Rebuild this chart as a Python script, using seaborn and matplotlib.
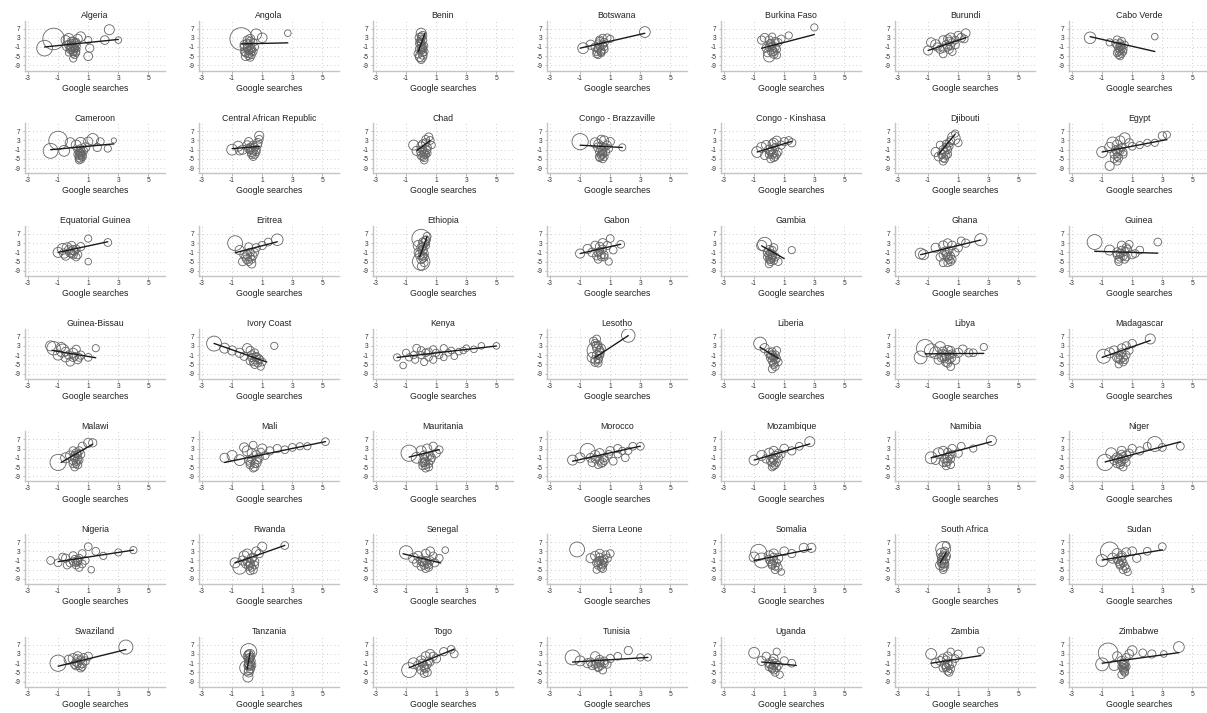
import numpy as np
import pandas as pd
import matplotlib
matplotlib.use("Agg")
import matplotlib.pyplot as plt
import seaborn as sns

# Google search intensity (x), outcome change (y) and population weight (w) by country
COUNTRIES = [
    "Algeria", "Angola", "Benin", "Botswana", "Burkina Faso", "Burundi", "Cabo Verde",
    "Cameroon", "Central African Republic", "Chad", "Congo - Brazzaville", "Congo - Kinshasa", "Djibouti", "Egypt",
    "Equatorial Guinea", "Eritrea", "Ethiopia", "Gabon", "Gambia", "Ghana", "Guinea",
    "Guinea-Bissau", "Ivory Coast", "Kenya", "Lesotho", "Liberia", "Libya", "Madagascar",
    "Malawi", "Mali", "Mauritania", "Morocco", "Mozambique", "Namibia", "Niger",
    "Nigeria", "Rwanda", "Senegal", "Sierra Leone", "Somalia", "South Africa", "Sudan",
    "Swaziland", "Tanzania", "Togo", "Tunisia", "Uganda", "Zambia", "Zimbabwe",
]

X, Y, W = {}, {}, {}
X["Algeria"] = [-1.3, -1.9, -0.5, -0.3, -0.1, 0.0, 0.1, 0.2, -0.2, 0.0, 0.1, -0.4, 0.3, 0.5, 2.4, 2.1, 3.0, 1.0, 1.1, 1.0, 0.0, 0.3, -0.1, 0.2, -0.3, 0.1, -0.3, -0.1, 0.1, 0.2, 0.0, -0.2, 0.1, -0.1, 0.2, 0.0]
Y["Algeria"] = [2.5, -1.5, 2.0, 2.5, 1.5, -0.5, -2.0, -3.0, -1.0, -4.0, 0.5, -0.5, 2.5, 3.5, 6.5, 2.0, 2.0, 2.0, -1.5, -5.0, -6.0, -2.0, -2.5, 1.0, -3.5, -1.5, 0.0, -1.0, -1.5, -0.5, -3.0, -2.0, -4.5, 0.5, -3.5, 1.5]
W["Algeria"] = [55, 28, 8, 12, 6, 5, 4, 4, 6, 3, 8, 10, 8, 9, 10, 7, 3, 4, 6, 7, 4, 0.5, 4, 5, 3, 5, 6, 7, 5, 6, 5, 6, 4, 7, 4, 6]
X["Angola"] = [-0.4, 0.6, 1.0, 2.7, -0.2, 0.0, 0.2, 0.3, 0.1, -0.1, 0.4, 0.2, 0.0, 0.3, 0.5, 0.1, -0.2, 0.2, 0.0, 0.2, 0.1, -0.1, 0.3, 0.1, 0.0, 0.2, 0.4, -0.2]
Y["Angola"] = [2.5, 4.5, 3.0, 5.0, 0.0, -1.0, -2.0, -3.0, -4.0, -5.0, 1.0, 2.5, 2.0, -4.5, -1.0, 0.5, -3.0, -5.5, -1.5, -0.5, -2.5, -3.5, -2.0, -4.8, 0.5, 1.5, -3.0, -1.0]
W["Angola"] = [60, 12, 9, 3, 6, 5, 6, 4, 5, 7, 5, 8, 6, 4, 5, 4, 5, 5, 6, 6, 5, 6, 5, 5, 7, 6, 5, 6]
X["Benin"] = [0.0, 0.0, -0.1, 0.1, 0.0, 0.1, -0.1, 0.2, 0.0, -0.2, 0.1, 0.0, 0.2, -0.1, 0.0, 0.0, 0.1, -0.1, 0.0, 0.1, -0.1, 0.0, 0.1]
Y["Benin"] = [5.0, -5.0, 3.0, 2.0, 0.0, -1.0, -2.0, -3.0, 1.0, -4.0, 4.0, -6.5, -0.5, 1.5, -2.5, -1.5, -3.5, 0.5, 2.5, -4.5, -5.5, 3.5, -2.0]
W["Benin"] = [10, 14, 8, 6, 6, 5, 7, 5, 5, 6, 6, 5, 4, 4, 5, 6, 5, 6, 5, 6, 6, 5, 5]
X["Botswana"] = [3.3, -0.8, -0.3, 0.0, 0.2, 0.4, 0.6, 0.5, 0.3, 0.1, 0.8, 1.0, 0.4, 0.2, 0.6, 0.2, 0.3, 0.4, 0.1, 0.5, 0.3, 0.2, 0.6]
Y["Botswana"] = [5.5, -1.5, 0.0, -1.0, -2.0, -3.0, 1.0, 3.0, 2.0, -4.0, 3.0, 2.5, -2.5, 0.5, -1.0, -1.5, -0.5, -3.5, -3.0, 0.0, 1.5, -4.5, -2.0]
W["Botswana"] = [12, 12, 8, 6, 5, 5, 6, 4, 6, 5, 5, 4, 5, 4, 4, 5, 6, 5, 5, 5, 5, 4, 5]
X["Burkina Faso"] = [3.0, 1.3, -0.5, -0.3, 0.0, 0.2, 0.4, 0.6, 0.8, 0.1, -0.2, 0.3, 0.0, 0.5, 0.2, 0.0, 0.2, 0.1, 0.3, 0.4, -0.1, 0.2, 0.5]
Y["Burkina Faso"] = [7.5, 4.0, 2.0, 3.0, -5.0, -3.0, -1.0, 1.0, 2.5, 0.5, -1.5, -4.0, 2.0, -2.0, 3.5, -1.0, -2.0, 0.0, -3.0, 1.5, -3.5, -0.5, -4.5]
W["Burkina Faso"] = [4, 4, 6, 7, 14, 8, 6, 5, 5, 6, 6, 7, 6, 5, 4, 6, 6, 5, 6, 5, 6, 5, 5]
X["Burundi"] = [-1.0, -0.5, 0.0, 0.5, 1.0, 1.5, -0.8, 0.3, 0.8, 1.2, -0.2, 0.6, 0.0, 0.4, 1.4, 0.2, 0.4, 0.0, 0.6, 0.3, 0.8, -0.4, 0.5]
Y["Burundi"] = [-2.5, 0.0, 2.0, 3.0, 4.0, 5.0, 1.0, -1.0, 0.0, 3.0, -2.0, -3.0, -4.0, 1.5, 2.5, 0.0, -2.0, -1.5, 1.0, 2.5, 2.0, -1.0, -0.5]
W["Burundi"] = [8, 10, 7, 9, 6, 7, 8, 6, 6, 7, 6, 5, 5, 6, 5, 6, 6, 6, 5, 6, 5, 6, 5]
X["Cabo Verde"] = [-1.8, -0.5, 0.0, 0.2, 0.4, 0.3, 0.1, 0.5, 2.5, 0.2, 0.0, 0.3, -0.1, 0.1, 0.2, 0.3, 0.0, 0.4, 0.2, 0.1, 0.3]
Y["Cabo Verde"] = [3.0, 1.0, 2.0, -1.0, -2.0, -4.0, -3.0, 0.0, 3.5, -5.0, -0.5, 1.5, 0.5, -1.5, -2.5, -0.5, -3.5, -3.0, 0.5, -4.5, -1.8]
W["Cabo Verde"] = [14, 4, 6, 5, 5, 4, 5, 4, 3, 4, 4, 5, 5, 5, 5, 4, 5, 4, 5, 4, 4]
X["Cameroon"] = [-1.0, -1.5, -0.6, -0.2, 0.2, 0.5, 0.8, 1.0, 1.3, 1.6, 1.8, 2.3, 2.7, 0.4, 0.5, 0.6, 0.5, 0.3, 0.7, 0.4, 0.5, 0.4, 0.6, 0.5, 0.3, 0.6, 0.4, 0.5]
Y["Cameroon"] = [3.0, -1.5, -1.5, 2.0, 1.0, 2.0, 0.0, 2.5, 3.5, 0.0, 2.5, -0.5, 3.0, -2.0, -3.0, -4.0, -5.0, -1.0, -1.5, -3.5, -2.5, -4.5, -3.5, -1.5, -3.0, -2.2, -5.5, -0.5]
W["Cameroon"] = [40, 25, 12, 10, 10, 12, 8, 8, 14, 6, 5, 4, 1, 6, 7, 6, 6, 5, 5, 6, 5, 6, 5, 6, 5, 5, 5, 5]
X["Central African Republic"] = [-1.0, -0.6, -0.3, 0.0, 0.3, 0.5, 0.8, 0.7, 0.6, 0.2, 0.4, 0.1, -0.5, 0.8, 0.2, 0.4, 0.5, 0.3, 0.6, 0.1, 0.7, 0.4]
Y["Central African Republic"] = [-1.0, 0.5, -1.0, 1.0, -2.0, -3.0, 5.0, 2.0, -1.0, 0.0, -4.0, 2.5, -1.5, 3.5, -1.0, -1.5, 0.0, -3.0, -2.0, -0.5, 1.0, 1.0]
W["Central African Republic"] = [12, 10, 8, 7, 8, 6, 8, 7, 6, 6, 5, 6, 6, 5, 6, 6, 5, 6, 5, 6, 5, 5]
X["Chad"] = [-0.5, -0.3, 0.0, 0.2, 0.4, 0.6, 0.3, 0.1, 0.5, 0.2, 0.0, 0.4, 0.7, 0.1, 0.2, 0.3, 0.0, 0.2, 0.4, 0.1, 0.3]
Y["Chad"] = [1.0, -1.5, -2.0, -3.0, 0.0, 3.0, 2.0, -4.0, 4.5, -5.5, 0.5, -1.0, 1.0, -1.0, -2.0, -3.0, -3.5, -4.5, -2.5, 1.5, 3.5]
W["Chad"] = [10, 8, 7, 6, 6, 5, 6, 5, 6, 5, 7, 5, 4, 6, 6, 5, 6, 5, 5, 6, 5]
X["Congo - Brazzaville"] = [-1.0, 0.0, 0.2, 0.4, 0.6, 0.8, 1.0, 1.8, 0.5, 0.3, 0.7, 0.2, 0.5, 0.9, 0.4, 0.3, 0.5, 0.4, 0.6, 0.4, 0.5, 0.3, 0.6]
Y["Congo - Brazzaville"] = [2.5, 2.0, 0.0, -1.0, 3.0, 1.0, 2.5, 0.0, -3.0, -4.0, -2.0, 1.5, -5.0, -0.5, 3.5, -2.0, -1.5, -3.5, -4.0, 0.5, -2.5, -4.5, 0.0]
W["Congo - Brazzaville"] = [30, 10, 8, 7, 8, 6, 6, 4, 6, 6, 5, 7, 5, 5, 6, 6, 6, 5, 5, 6, 5, 5, 5]
X["Congo - Kinshasa"] = [-0.8, -0.5, -0.2, 0.0, 0.3, 0.5, 0.8, 1.0, 1.3, 1.5, 0.2, 0.4, 0.1, 0.6, -0.3, 0.2, 0.3, 0.4, 0.1, 0.5, 0.3, 0.2, 0.0]
Y["Congo - Kinshasa"] = [-2.0, 0.0, 1.0, -1.0, 2.0, 3.0, 1.0, 2.5, 3.0, 2.0, -3.0, -4.0, -5.0, -2.0, -3.5, -1.0, -2.5, 0.0, -2.0, -3.0, -4.5, 1.5, -3.0]
W["Congo - Kinshasa"] = [12, 10, 8, 8, 8, 7, 6, 6, 5, 6, 6, 5, 5, 5, 6, 6, 6, 5, 6, 5, 5, 6, 5]
X["Djibouti"] = [-0.5, -0.3, 0.0, 0.2, 0.4, 0.7, 0.8, 1.0, 0.3, 0.0, -0.2, 0.5, 0.1, 0.2, 0.0, 0.3, 0.1, -0.1, 0.2, 0.4]
Y["Djibouti"] = [-2.0, -4.0, -1.0, 0.0, 2.0, 4.0, 6.0, 2.0, -3.0, -6.0, 1.0, 3.0, -2.0, -3.5, -4.5, -1.0, -5.0, -3.0, 1.5, 0.5]
W["Djibouti"] = [8, 7, 6, 6, 6, 18, 4, 5, 5, 5, 5, 5, 6, 5, 6, 5, 5, 6, 5, 5]
X["Egypt"] = [-1.0, -0.5, -0.3, 0.0, 0.2, 0.5, 0.8, 1.0, 2.0, 2.5, 3.0, 3.3, -0.5, 0.1, 0.4, 0.0, -0.2, 1.5, 0.0, -0.2, 0.2, 0.1, -0.1, 0.3, 0.0, 0.4]
Y["Egypt"] = [-2.0, 0.0, 2.0, 1.0, 3.0, 4.0, 2.0, 0.5, 2.0, 2.0, 5.0, 5.5, -8.0, -1.0, -3.0, -4.0, -5.0, 1.0, -2.0, -3.0, -1.5, -4.5, -1.0, 0.0, -6.0, -2.0]
W["Egypt"] = [12, 10, 14, 10, 8, 12, 6, 5, 4, 4, 6, 4, 8, 6, 5, 5, 5, 4, 6, 6, 5, 6, 6, 5, 5, 5]
X["Equatorial Guinea"] = [-1.0, -0.7, -0.4, -0.2, 0.0, 0.3, 0.5, 1.0, 2.3, 1.0, -0.5, 0.2, -0.1, -0.3, -0.1, 0.1, -0.6, 0.2, 0.0]
Y["Equatorial Guinea"] = [-1.0, 0.5, 1.0, -1.0, 0.0, -2.0, 1.5, 5.0, 3.3, -5.0, -2.5, -3.0, 2.0, 0.0, -1.5, -0.5, -1.5, 0.5, -2.0]
W["Equatorial Guinea"] = [10, 12, 10, 8, 8, 6, 6, 4, 5, 3, 7, 5, 6, 7, 6, 6, 8, 5, 6]
X["Eritrea"] = [-0.8, -0.5, -0.2, 0.0, 0.3, 0.6, 1.0, 2.0, 0.2, -0.3, 0.5, 0.1, 1.4, 0.0, 0.2, -0.1, 0.3, 0.1, 0.4]
Y["Eritrea"] = [3.0, 0.0, -2.0, -4.0, -6.0, 1.0, 2.0, 4.5, -3.0, -5.0, -1.0, 1.5, 3.5, -2.0, -1.0, -3.0, -4.0, -5.0, -2.5]
W["Eritrea"] = [25, 8, 7, 8, 6, 6, 6, 14, 6, 6, 5, 5, 5, 6, 6, 6, 5, 5, 5]
X["Ethiopia"] = [0.0, 0.0, -0.2, 0.2, 0.1, 0.3, -0.1, 0.2, 0.4, 0.0, 0.1, -0.2, 0.3, 0.1, 0.2, 0.0, 0.1, 0.2, 0.0, 0.1, 0.3]
Y["Ethiopia"] = [5.0, -5.0, 2.0, 3.0, 0.0, 4.0, -2.0, -3.0, 6.0, -7.0, 1.5, -1.0, 2.0, -3.5, -1.5, -4.0, 3.5, -5.5, 1.0, -2.5, 4.5]
W["Ethiopia"] = [40, 35, 10, 8, 8, 6, 8, 6, 5, 5, 6, 6, 5, 6, 6, 7, 6, 5, 7, 6, 5]
X["Gabon"] = [-1.0, -0.5, -0.2, 0.0, 0.3, 0.5, 0.8, 1.0, 1.2, 1.7, 0.4, 0.2, 0.6, 0.9, 0.2, 0.4, 0.3, 0.5, 0.1, 0.6]
Y["Gabon"] = [-1.5, 0.5, -1.0, 2.0, 1.5, 3.0, 2.0, 5.0, 0.0, 2.5, -3.0, -4.0, -2.0, -5.0, -1.0, -2.0, -0.5, 0.5, -2.5, -3.0]
W["Gabon"] = [8, 8, 7, 7, 7, 8, 6, 5, 5, 5, 5, 5, 5, 4, 6, 6, 5, 5, 6, 5]
X["Gambia"] = [-0.5, -0.3, 0.0, 0.2, 0.4, 0.1, -0.1, 0.3, 0.6, 1.5, 0.0, 0.2, 0.1, 0.0, 0.2, 0.3, 0.1, -0.1, 0.2, 0.0]
Y["Gambia"] = [2.0, 2.5, 0.0, -2.0, -3.0, -4.0, -1.0, 1.0, -5.0, 0.0, -6.0, -2.5, -1.5, -2.0, -3.5, -4.5, -5.0, -3.0, 0.0, -4.0]
W["Gambia"] = [10, 22, 8, 7, 6, 6, 7, 6, 5, 4, 5, 5, 6, 6, 5, 5, 5, 6, 5, 5]
X["Ghana"] = [-1.5, -1.3, -0.5, 0.0, 0.3, 0.6, 1.0, 1.5, 2.5, 0.2, 0.4, -0.2, 0.8, 1.2, 0.0, 0.5, 0.2, 0.3, 0.5, 0.1, 0.4, 0.6, 0.0, 0.3]
Y["Ghana"] = [-1.5, -2.0, 1.0, 2.0, 3.0, 2.0, 1.0, 3.0, 4.5, -2.0, -4.0, -3.0, -1.0, 4.0, -5.5, -5.0, -1.0, -3.0, -2.5, -0.5, 0.0, -4.0, -2.0, -5.5]
W["Ghana"] = [12, 10, 8, 8, 7, 7, 6, 6, 16, 6, 6, 6, 5, 5, 5, 5, 6, 6, 5, 6, 5, 5, 6, 5]
X["Guinea"] = [-1.5, -0.5, 0.0, 0.3, 0.6, 1.0, 1.5, 2.7, 0.2, 0.5, 0.8, 0.1, 1.2, 0.2, 0.4, 0.3, 0.5, 0.1, 0.6, 0.0, 0.7]
Y["Guinea"] = [3.5, 0.0, -1.0, 2.0, 1.0, -2.0, 0.0, 3.5, -3.0, -4.0, 2.5, -5.0, -1.5, -1.5, -2.5, 0.0, -0.5, -4.0, -3.0, -2.0, 0.5]
W["Guinea"] = [25, 10, 8, 7, 6, 6, 5, 5, 6, 5, 5, 5, 5, 6, 6, 5, 5, 5, 5, 6, 5]
X["Guinea-Bissau"] = [-1.3, -0.7, -1.5, -1.0, -0.5, 0.0, 0.3, 0.5, 1.0, 1.5, -0.2, 0.2, -0.3, 0.0, 0.1, -0.5, 0.4, -0.8]
Y["Guinea-Bissau"] = [2.0, 1.0, 3.0, -1.0, -2.0, 0.0, -3.0, -1.0, -2.0, 2.0, -4.0, 1.5, -1.0, -2.0, -1.5, 0.5, -2.0, 2.5]
W["Guinea-Bissau"] = [20, 18, 10, 10, 8, 8, 6, 6, 5, 4, 6, 6, 6, 6, 5, 7, 5, 8]
X["Ivory Coast"] = [-2.2, -1.5, -1.0, -0.5, 0.0, 0.3, 0.6, 0.8, 1.0, 1.8, 0.5, 0.2, 0.9, -0.2, 0.3, 0.5, 0.6, 0.4, 0.7, 0.8, 0.5, 0.2]
Y["Ivory Coast"] = [4.0, 2.0, 1.0, 0.0, 2.0, -1.0, -2.0, -3.0, -4.0, 3.0, -5.0, 1.0, -6.0, -1.5, -2.0, -3.0, -1.5, -4.0, -4.5, -2.5, 0.0, -3.5]
W["Ivory Coast"] = [25, 10, 8, 8, 8, 7, 6, 6, 5, 4, 6, 6, 4, 6, 6, 6, 5, 5, 5, 5, 5, 6]
X["Kenya"] = [-1.6, -1.0, -0.5, 0.0, 0.5, 1.0, 1.5, 2.0, 2.5, 3.0, 4.0, 5.0, 0.2, -0.3, 0.8, 1.2, -1.2, 0.3, 2.2, 3.5, 0.0, 0.5, -0.8, 1.8, 2.8, 0.8, -0.4, 1.5]
Y["Kenya"] = [-2.0, 0.0, -1.0, 1.0, -2.0, 0.0, 2.0, 1.0, 0.5, 2.0, 3.0, 3.0, -4.0, 2.0, -3.0, -1.0, -5.5, 0.0, -1.5, 1.5, -1.0, 0.5, -2.0, 0.0, 1.0, 1.5, -3.0, -2.0]
W["Kenya"] = [4, 4, 4, 5, 4, 4, 4, 3, 3, 3, 3, 3, 4, 5, 4, 4, 3, 5, 3, 3, 4, 4, 4, 3, 3, 4, 4, 3]
X["Lesotho"] = [2.2, 0.0, -0.2, 0.1, 0.3, 0.2, 0.0, 0.4, -0.1, 0.3, 0.1, 0.1, 0.2, 0.0, 0.3, 0.1, 0.2, 0.0, 0.2]
Y["Lesotho"] = [7.5, 1.0, -2.0, 3.0, 0.0, -3.0, -4.0, 2.0, 5.0, -1.0, 6.0, -1.0, -2.5, -3.0, 1.0, 2.0, -4.5, 4.0, 3.5]
W["Lesotho"] = [20, 30, 10, 8, 8, 6, 7, 6, 6, 6, 5, 7, 6, 7, 6, 6, 5, 6, 5]
X["Liberia"] = [-0.6, -0.3, 0.0, 0.2, 0.4, 0.3, 0.1, 0.5, 0.2, 0.6, 0.3, 0.4, 0.2, 0.5, 0.3, 0.1, 0.4, 0.2]
Y["Liberia"] = [4.0, 2.0, 0.0, -1.0, -3.0, -5.0, -2.0, 1.0, -7.0, -4.0, -2.0, -1.0, -3.5, -2.5, -4.5, -1.0, -6.0, 0.5]
W["Liberia"] = [18, 8, 8, 7, 6, 6, 7, 5, 5, 5, 6, 6, 6, 5, 5, 6, 5, 5]
X["Libya"] = [-1.2, -1.5, -0.8, -0.5, -0.2, 0.0, 0.3, 0.5, 0.8, 1.0, 1.3, 1.7, 2.0, 2.7, 0.2, 0.5, 0.4, -0.3, 0.0, 0.2, 0.4, 0.6, 0.1, 0.3, -0.1, 0.5]
Y["Libya"] = [2.0, -2.0, 1.0, 0.0, 2.5, -1.0, 1.0, -2.0, -3.0, 0.0, 1.5, 0.0, 0.0, 2.5, -4.0, -6.0, -3.0, -3.0, 0.5, -1.5, -1.0, -0.5, -2.5, -4.5, -2.0, 1.0]
W["Libya"] = [35, 18, 20, 15, 12, 12, 10, 10, 8, 8, 7, 6, 5, 4, 7, 5, 6, 8, 8, 7, 7, 6, 7, 6, 8, 6]
X["Madagascar"] = [-0.9, -0.5, -0.2, 0.0, 0.3, 0.6, 1.0, 2.2, 0.2, 0.4, 0.1, 0.8, 0.2, 0.4, 0.3, 0.5, 0.1, 0.6]
Y["Madagascar"] = [-1.5, 0.0, 1.0, -2.0, 2.0, 3.0, 4.0, 6.0, -3.0, -4.0, -5.0, 1.0, -1.0, -2.0, 0.0, -3.0, -2.5, -1.0]
W["Madagascar"] = [22, 10, 8, 8, 7, 6, 6, 10, 6, 5, 4, 5, 6, 6, 6, 5, 6, 5]
X["Malawi"] = [-1.0, -0.5, -0.2, 0.0, 0.2, 0.4, 0.6, 1.0, 1.3, 0.3, 0.1, 0.5, 0.0, 0.1, 0.2, 0.3, 0.0, 0.2, 0.4, 0.1, 0.3]
Y["Malawi"] = [-3.0, -1.0, 0.0, -2.0, 1.0, 2.0, 4.0, 5.5, 5.5, -4.0, -5.0, 0.5, 2.0, -1.0, -2.5, -1.5, -3.5, -3.5, -2.0, 0.0, 0.5]
W["Malawi"] = [30, 10, 8, 8, 7, 6, 6, 8, 6, 6, 5, 6, 6, 6, 6, 6, 6, 5, 5, 6, 5]
X["Mali"] = [-1.5, -1.0, -0.5, 0.0, 0.3, 0.6, 1.0, 1.5, 2.0, 2.5, 3.0, 3.5, 4.0, 5.2, 0.2, 0.5, 0.8, -0.2, 1.2, 0.4, 0.1, 0.3, 0.5, 0.7, 0.2, 0.6, 0.4, 0.9]
Y["Mali"] = [-1.0, 0.0, -2.0, 2.0, 1.0, -3.0, 3.0, 2.0, 3.0, 2.5, 3.5, 4.0, 4.0, 6.0, -4.0, -5.0, -1.0, 3.5, 0.0, 4.5, -2.0, -1.5, -3.5, -2.0, -3.0, 0.5, -5.5, 1.5]
W["Mali"] = [8, 10, 12, 10, 8, 10, 8, 6, 6, 5, 5, 4, 4, 5, 6, 6, 6, 8, 5, 5, 6, 6, 6, 5, 6, 5, 5, 5]
X["Mauritania"] = [-0.8, -0.3, 0.0, 0.2, 0.4, 0.6, 0.8, 1.0, 1.2, 0.3, 0.5, 0.1, 0.7, 0.2, 0.3, 0.4, 0.5, 0.1, 0.3, 0.6, 0.2]
Y["Mauritania"] = [1.0, -1.0, 2.0, 0.0, 3.0, -2.0, 4.0, 1.0, 2.5, -4.0, -5.0, -3.0, -1.0, -1.5, -2.5, -0.5, -3.5, -4.5, -5.5, 0.0, -3.0]
W["Mauritania"] = [30, 12, 10, 8, 8, 7, 6, 6, 5, 6, 5, 6, 5, 6, 6, 6, 5, 5, 5, 5, 6]
X["Morocco"] = [-1.5, -1.0, -0.5, 0.0, 0.3, 0.6, 1.0, 1.5, 2.0, 2.5, 3.0, 0.5, 1.2, 1.8, 0.2, -0.2, 0.0, 0.3, 0.6, 0.9, 0.4, -0.3, 1.5, 2.2]
Y["Morocco"] = [-2.0, -1.0, 2.0, 0.0, 1.0, -2.0, 2.0, 3.0, -1.0, 4.0, 4.0, -3.0, -2.5, 2.0, -4.0, -3.0, -1.5, -2.0, -1.0, 0.5, -3.5, -1.0, 0.5, 2.0]
W["Morocco"] = [10, 10, 25, 10, 8, 7, 7, 6, 5, 5, 5, 6, 5, 4, 5, 6, 6, 6, 5, 5, 5, 7, 4, 4]
X["Mozambique"] = [-1.0, -0.5, 0.0, 0.3, 0.6, 1.0, 1.5, 2.0, 2.7, 0.2, 0.4, -0.2, 0.8, 0.2, 0.3, 0.4, 0.1, 0.5, 0.3, 0.6, 0.2]
Y["Mozambique"] = [-2.0, 0.0, 1.0, 2.0, -1.0, 3.0, 2.0, 4.0, 6.0, -3.0, -4.0, -1.5, 0.5, -1.0, -2.0, 0.0, -2.5, -3.0, -4.5, 1.0, -5.0]
W["Mozambique"] = [10, 10, 10, 8, 7, 7, 6, 5, 10, 6, 5, 6, 5, 6, 6, 6, 6, 5, 5, 5, 5]
X["Namibia"] = [-0.8, -0.3, 0.0, 0.3, 0.6, 1.0, 1.2, 2.0, 3.2, 0.2, 0.5, -0.5, 0.1, 0.3, 0.4, 0.2, 0.5, 0.0, 0.6, 0.3]
Y["Namibia"] = [-1.0, 1.0, 2.0, -1.0, 3.0, 1.0, 4.0, 3.0, 6.5, -3.0, -4.0, -2.0, -1.5, -2.5, 0.0, -4.5, -1.5, -3.0, 0.5, 1.5]
W["Namibia"] = [15, 12, 8, 8, 6, 6, 5, 4, 10, 6, 5, 7, 6, 6, 6, 5, 5, 6, 5, 5]
X["Niger"] = [-0.8, -0.4, 0.0, 0.3, 0.6, 1.0, 1.5, 2.0, 2.5, 3.0, 4.2, 0.2, 0.4, -0.2, 0.8, 0.1, 0.3, 0.4, 0.2, 0.5, 0.0, 0.6, 0.3]
Y["Niger"] = [-3.0, 1.0, -1.0, 2.0, 0.0, 3.0, 2.0, 4.0, 5.0, 3.5, 4.0, -4.0, -5.0, -2.0, 1.0, -1.5, -2.5, -0.5, -3.0, -1.5, -3.5, -3.0, 0.5]
W["Niger"] = [30, 12, 10, 8, 8, 6, 6, 5, 25, 5, 5, 6, 5, 7, 6, 6, 6, 6, 6, 5, 6, 5, 6]
X["Nigeria"] = [-1.5, -1.0, -0.5, 0.0, 0.3, 0.6, 1.0, 1.5, 2.0, 3.0, 4.0, 0.2, 0.4, -0.2, 0.8, 1.2, 0.0, 0.2, 0.4, -0.4, 0.1, 0.3, -0.7, 0.6]
Y["Nigeria"] = [-1.0, -2.0, 0.0, 1.0, -1.0, 2.0, 5.0, 3.0, 1.0, 2.5, 3.5, -3.0, -4.0, -2.0, -1.0, -5.0, -1.5, -2.0, 0.0, -3.0, -0.5, -1.5, 0.5, -2.5]
W["Nigeria"] = [5, 5, 6, 6, 6, 5, 5, 5, 4, 4, 4, 5, 5, 6, 5, 3, 5, 5, 5, 5, 5, 5, 5, 5]
X["Rwanda"] = [-0.8, -0.5, -0.2, 0.0, 0.3, 0.6, 1.0, 2.5, 0.2, 0.4, -0.3, 0.5, 0.8, 0.0, 0.2, 0.1, 0.3, -0.1, 0.4, 0.2, 0.5]
Y["Rwanda"] = [-2.0, -4.0, 1.0, 2.0, 0.0, 3.0, 5.0, 5.5, -3.0, -5.0, -1.0, -1.5, 2.0, -1.5, -2.0, -3.5, -4.0, -2.5, 0.5, -5.5, -3.0]
W["Rwanda"] = [10, 20, 10, 8, 8, 7, 8, 5, 6, 6, 8, 6, 6, 6, 6, 6, 5, 6, 5, 5, 5]
X["Senegal"] = [-1.0, -0.5, -0.2, 0.0, 0.3, 0.6, 0.9, 1.2, 1.6, 0.2, 0.5, -0.3, 0.8, 0.1, 0.3, 0.4, 0.2, 0.6, 0.5, 0.0, 0.3]
Y["Senegal"] = [2.5, 0.0, 1.0, -1.0, 2.0, 3.0, -2.0, 0.0, 3.5, -3.0, -4.0, -2.0, 1.0, -1.5, -1.0, -2.5, -2.0, -1.0, -3.0, -3.5, -4.5]
W["Senegal"] = [20, 10, 8, 8, 7, 7, 6, 5, 3, 6, 5, 6, 5, 6, 6, 5, 6, 5, 5, 6, 5]
X["Sierra Leone"] = [-1.2, -0.3, 0.0, 0.3, 0.5, 0.8, 1.0, 0.2, 0.4, 0.6, 0.1, 0.7, 0.3, 0.4, 0.5, 0.2, 0.6, 0.3, 0.1, 0.5]
Y["Sierra Leone"] = [3.8, 0.0, 1.0, 2.0, -1.0, 0.0, 2.0, -3.0, -4.0, -2.0, -5.0, 1.5, -1.0, -2.5, -3.0, -1.5, -0.5, 0.5, -2.0, -4.5]
W["Sierra Leone"] = [25, 8, 8, 7, 6, 6, 5, 6, 5, 5, 4, 5, 6, 6, 5, 6, 5, 5, 6, 5]
X["Somalia"] = [-0.7, -0.5, -1.0, 0.0, 0.3, 0.6, 1.0, 1.5, 2.3, 2.8, 0.2, 0.4, 0.8, 0.1, 0.3, 0.2, 0.5, 0.4, 0.0, 0.6, 0.3]
Y["Somalia"] = [2.5, -1.0, 0.5, 1.0, 2.0, 0.0, 3.0, 2.0, 4.5, 4.5, -3.0, -5.0, -6.0, -1.5, -1.0, -2.5, -2.0, -3.5, -0.5, -4.0, 0.5]
W["Somalia"] = [30, 25, 10, 10, 8, 8, 7, 6, 8, 8, 6, 5, 3, 6, 6, 6, 5, 5, 6, 5, 5]
X["South Africa"] = [0.0, -0.1, 0.1, 0.0, -0.2, 0.2, 0.0, 0.1, -0.1, 0.2, 0.0, 0.1, -0.1, 0.0, 0.1, -0.1, 0.0, 0.1]
Y["South Africa"] = [4.0, 2.0, 0.0, -2.0, -3.0, 1.0, -4.0, 3.0, -1.0, 5.5, -1.0, -2.5, -2.0, 1.0, -3.5, 0.5, -5.0, 2.0]
W["South Africa"] = [25, 12, 10, 10, 8, 7, 6, 6, 7, 5, 7, 6, 7, 6, 6, 6, 5, 5]
X["Sudan"] = [-0.5, -1.0, -0.3, 0.0, 0.3, 0.6, 1.0, 1.3, 2.0, 3.0, 0.2, 0.4, 0.7, 0.1, 0.3, 0.2, 0.4, 0.5, 0.0, 0.6, 0.3]
Y["Sudan"] = [3.0, -1.0, 0.0, 2.0, 1.0, 2.5, 3.0, 0.0, 3.0, 5.0, -3.0, -5.0, -6.0, -1.5, -1.0, -2.5, -2.0, -3.5, -0.5, -4.5, 0.5]
W["Sudan"] = [40, 15, 10, 10, 8, 8, 7, 6, 5, 5, 6, 5, 4, 6, 6, 6, 5, 5, 6, 5, 5]
X["Swaziland"] = [3.5, -1.0, 0.0, 0.3, 0.6, 1.0, 0.2, 0.5, 0.8, -0.3, 0.3, 0.4, 0.5, 0.2, 0.6, 0.3, 0.7, 0.1]
Y["Swaziland"] = [6.0, -1.0, 1.0, 2.0, -1.0, 2.0, -2.0, -3.0, 0.0, 0.5, -1.0, -2.0, 0.5, -0.5, -2.5, 1.0, 1.5, -1.5]
W["Swaziland"] = [22, 30, 10, 8, 8, 6, 7, 6, 6, 8, 6, 6, 5, 6, 5, 5, 5, 6]
X["Tanzania"] = [0.1, 0.0, 0.1, 0.2, 0.15, 0.1, 0.2, 0.05, 0.1, 0.3, 0.1, 0.2, 0.1, 0.15, 0.05, 0.2, 0.1, 0.15]
Y["Tanzania"] = [4.0, -3.0, 2.0, 0.0, -1.0, -5.0, 3.0, -7.0, 1.0, -2.0, -1.5, -3.5, -4.0, 0.5, -2.0, 1.5, 3.0, -2.5]
W["Tanzania"] = [30, 25, 12, 10, 10, 8, 8, 10, 8, 6, 7, 6, 7, 6, 6, 6, 6, 6]
X["Togo"] = [-0.8, -0.5, 0.0, 0.3, 0.6, 1.0, 1.5, 2.0, 2.2, 0.2, 0.4, -0.2, 0.8, 0.1, 0.2, 0.4, 0.3, 0.0, 0.5, 0.6, 0.2]
Y["Togo"] = [-4.0, -1.0, 0.0, 2.0, 3.0, 1.0, 4.0, 5.0, 3.0, -3.0, -5.0, -2.0, 2.0, -1.0, -2.0, -1.5, -3.5, -4.0, 0.0, -0.5, -5.5]
W["Togo"] = [25, 12, 10, 8, 8, 7, 6, 5, 5, 6, 6, 8, 6, 6, 6, 6, 5, 6, 5, 5, 5]
X["Tunisia"] = [-1.5, -1.0, -0.5, 0.0, 0.3, 0.6, 1.0, 1.5, 2.2, 3.0, 3.5, 0.2, 0.5, -0.2, 0.1, 0.3, 0.4, 0.0, 0.6, 0.2, 0.8, -0.3]
Y["Tunisia"] = [1.5, 0.0, -1.0, 2.0, 0.5, -1.0, 1.0, 2.0, 4.5, 1.5, 1.5, -3.0, -4.0, -2.0, -1.0, -0.5, -2.0, -1.5, 0.0, -2.5, -1.5, -0.5]
W["Tunisia"] = [25, 10, 8, 8, 7, 6, 6, 5, 6, 4, 4, 5, 5, 6, 6, 6, 5, 6, 5, 6, 5, 6]
X["Uganda"] = [-1.0, -0.5, 0.0, 0.3, 0.6, 1.0, 1.5, 0.2, 0.4, -0.2, 0.5, 0.7, 0.1, 0.3, 0.2, 0.4, 0.0, 0.5, 0.3, 0.2]
Y["Uganda"] = [3.5, 0.0, -1.0, 1.0, -2.0, 0.0, -1.0, -3.0, -5.0, 2.0, 4.0, -6.0, -1.5, -2.0, -3.5, -1.0, -2.5, -3.0, -4.0, 0.0]
W["Uganda"] = [12, 8, 8, 7, 6, 6, 5, 6, 5, 6, 4, 4, 6, 6, 5, 6, 6, 5, 5, 5]
X["Zambia"] = [-0.8, -0.5, 0.0, 0.3, 0.6, 1.0, 2.5, 0.2, 0.4, -0.2, 0.5, 0.8, 0.1, 0.3, 0.2, 0.4, 0.0, 0.5, 0.3, 0.2]
Y["Zambia"] = [3.0, -1.0, 1.0, 2.0, -1.0, 3.0, 4.5, -3.0, -5.0, 0.0, 4.0, 1.0, -1.5, -1.0, -2.5, -2.0, -3.0, -3.5, -4.5, 0.5]
W["Zambia"] = [12, 8, 8, 7, 6, 5, 4, 6, 5, 7, 4, 5, 6, 6, 5, 6, 6, 5, 5, 5]
X["Zimbabwe"] = [-0.6, -1.0, -0.2, 0.0, 0.3, 0.5, 0.8, 1.0, 1.7, 2.3, 3.1, 4.1, 0.4, 0.5, 0.3, 0.6, 0.4, 0.5, 0.3, 0.5, 0.4, 0.6, 0.5, 0.4]
Y["Zimbabwe"] = [3.5, -1.5, -2.0, 2.0, 0.0, -1.0, 3.0, 4.5, 3.5, 3.0, 3.0, 6.0, -3.0, -5.0, -6.0, 1.5, -1.5, -2.0, -2.5, -3.5, -4.0, -2.5, -4.5, -1.0]
W["Zimbabwe"] = [45, 18, 10, 8, 8, 7, 7, 9, 5, 6, 3, 12, 6, 5, 5, 5, 6, 6, 5, 6, 5, 5, 5, 6]

# Weighted linear fit per country: intercept, slope and the x span it covers
FIT_A = [0.28, 0.4, 0.5, 0.0, -0.7, -0.3, 0.8,
         -0.1, 0.0, 0.0, 0.6, -0.4, -0.6, -0.75,
         0.4, 0.2, -1.2, 0.0, 0.0, 0.4, -0.8,
         -0.5, -1.0, -0.8, -2.0, 0.0, -0.4, 0.3,
         0.0, -1.0, 0.6, -0.3, -0.1, 0.4, -1.4,
         -0.5, -0.2, 0.0, np.nan, 0.3, 0.2, 0.3,
         -0.7, -3.5, -0.8, 0.1, -0.8, -0.2, -0.1]
FIT_B = [0.67, 0.15, 18.0, 1.5, 1.7, 2.2, -1.5,
         0.6, 0.55, 5.0, -0.35, 2.0, 8.0, 1.25,
         1.4, 1.7, 18.0, 1.5, -3.7, 1.6, -0.2,
         -1.1, -2.3, 0.75, 4.3, -4.0, 0.05, 2.3,
         3.8, 1.35, 1.6, 1.45, 1.9, 1.75, 1.75,
         1.0, 2.3, -1.6, np.nan, 1.3, 11.0, 1.1,
         1.6, 37.0, 2.7, 0.4, -0.65, 1.0, 0.9]
FIT_LO = [-1.9, -0.4, -0.2, -1.0, -0.5, -1.0, -1.8,
          -1.5, -1.0, -0.3, -1.0, -0.8, -0.3, -1.0,
          -1.0, -0.8, -0.1, -1.0, -0.5, -1.5, -1.5,
          -1.4, -2.2, -1.6, 0.0, -0.6, -1.2, -1.0,
          -0.8, -1.5, -0.8, -1.5, -1.0, -0.8, -0.8,
          -1.0, -0.8, -1.2, np.nan, -1.0, -0.2, -1.0,
          -1.0, 0.0, -0.8, -1.5, -0.5, -0.8, -1.0]
FIT_HI = [3.0, 2.7, 0.25, 3.3, 3.0, 1.5, 2.5,
          2.7, 0.8, 0.6, 1.8, 1.5, 0.8, 3.3,
          2.3, 2.0, 0.4, 1.7, 1.0, 2.5, 2.7,
          1.5, 1.3, 5.0, 2.2, 0.6, 2.7, 2.2,
          1.3, 5.2, 1.2, 3.0, 2.7, 3.2, 4.2,
          4.0, 2.5, 1.3, np.nan, 2.8, 0.2, 3.0,
          3.5, 0.2, 2.2, 3.5, 1.8, 2.5, 4.1]

X_TICKS = [-3, -1, 1, 3, 5]
Y_TICKS = [-9, -5, -1, 3, 7]
X_LABEL = "Google searches"

sns.set_theme(style="white")
plt.rcParams["font.family"] = ["Liberation Sans", "DejaVu Sans"]
plt.rcParams["axes.unicode_minus"] = False

FW, FH = 1207, 713
fig = plt.figure(figsize=(FW / 100, FH / 100), dpi=100)
fig.patch.set_facecolor("white")

NCOL = 7
for i, name in enumerate(COUNTRIES):
    r, c = divmod(i, NCOL)
    left_px = 25 + 174 * c
    bottom_px = 70.5 + 102.7 * r
    ax = fig.add_axes([left_px / FW, 1 - bottom_px / FH, 140 / FW, 50 / FH])

    df = pd.DataFrame({"x": X[name], "y": Y[name], "w": W[name]})
    sns.scatterplot(data=df, x="x", y="y", size="w", sizes=(10, 430), size_norm=(0, 100),
                    legend=False, ax=ax, zorder=3)
    # hollow circles with a thin grey outline
    for coll in ax.collections:
        coll.set_facecolor("none")
        coll.set_edgecolor("#646464")
        coll.set_linewidth(0.6)

    a, b = FIT_A[i], FIT_B[i]
    if not np.isnan(a):
        xs = np.array([FIT_LO[i], FIT_HI[i]])
        sns.lineplot(x=xs, y=a + b * xs, color="#1a1a1a", linewidth=1.0, ax=ax, zorder=4)

    ax.set_xlim(-3.2, 6.1)
    ax.set_ylim(-11.2, 10.5)
    ax.set_xticks(X_TICKS)
    ax.set_yticks(Y_TICKS)
    ax.grid(True, linestyle=(0, (1, 3.5)), color="#bdbdbd", linewidth=0.6)
    ax.set_axisbelow(True)
    for side in ("top", "right"):
        ax.spines[side].set_visible(False)
    for side in ("left", "bottom"):
        ax.spines[side].set_color("#c4c4c4")
        ax.spines[side].set_linewidth(1.0)
    ax.tick_params(axis="both", which="major", labelsize=4.8, length=1.8, width=0.5,
                   color="#9a9a9a", labelcolor="#333333", pad=1.2, direction="out",
                   left=True, bottom=True)
    ax.set_xlabel(X_LABEL, fontsize=6.3, color="#222222", labelpad=1.5)
    ax.set_ylabel("")
    ax.set_title(name, fontsize=6.3, color="#222222", pad=1.8)

fig.savefig("out.png", dpi=100, facecolor="white")
